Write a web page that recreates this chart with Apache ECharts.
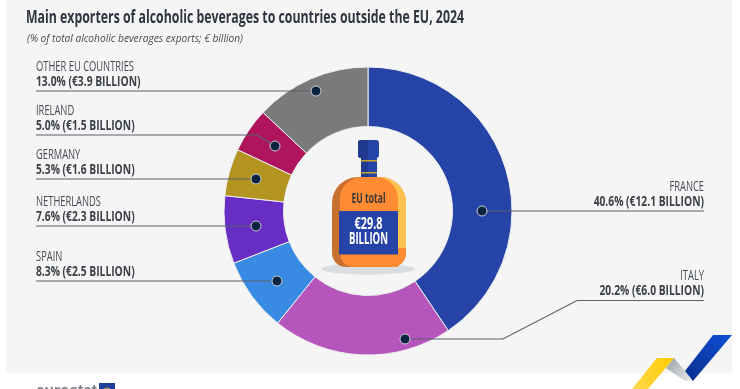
<!DOCTYPE html>
<html><head><meta charset="utf-8">
<style>html,body{margin:0;padding:0;background:#fff}#c{width:740px;height:389px}</style>
<script src="https://cdn.jsdelivr.net/npm/echarts@6/dist/echarts.min.js"></script>
</head><body><div id="c"></div>
<script>
const categories = ['FRANCE','ITALY','SPAIN','NETHERLANDS','GERMANY','IRELAND','OTHER EU COUNTRIES'];
const shares = [40.6,20.2,8.3,7.6,5.3,5.0,13.0];
const billions = ['12.1','6.0','2.5','2.3','1.6','1.5','3.9'];
const colors = ['#2644a7','#b656bd','#388ae2','#672dc4','#b39421','#af155c','#7a7a7a'];
const titleText = 'Main exporters of alcoholic beverages to countries outside the EU, 2024';
const subtitleText = '(% of total alcoholic beverages exports; € billion)';
// callout layout: text anchor x, underline y, leader points, dot
const callouts = [
  {x:704,y:211,align:'right',pts:[[704,211],[482,211]],dot:[482,211]},
  {x:704,y:300.5,align:'right',pts:[[704,300.5],[577,300.5],[503,339],[405,339]],dot:[405,339]},
  {x:36,y:281,align:'left',pts:[[36,281],[277,281]],dot:[277,281]},
  {x:36,y:226,align:'left',pts:[[36,226],[256,226]],dot:[256,226]},
  {x:36,y:179,align:'left',pts:[[36,179],[256,179]],dot:[256,179]},
  {x:36,y:135,align:'left',pts:[[36,135],[257,135],[275,146]],dot:[275,146]},
  {x:36,y:91,align:'left',pts:[[36,91],[316,91]],dot:[316,91]}
];
const F = '"Open Sans","Noto Sans",sans-serif';
const mctx = document.createElement('canvas').getContext('2d');
const widthOf = (t,font)=>{mctx.font=font;return mctx.measureText(t).width;};
const fitScale = (t,font,w)=>w/widthOf(t,font);
const chart = echarts.init(document.getElementById('c'));
const poly=(points,fill,z=10)=>({type:'polygon',z,shape:{points},style:{fill}});
const rect=(x,y,width,height,fill,r=0,z=10)=>({type:'rect',z,shape:{x,y,width,height,r},style:{fill}});
const text=(x,y,t,font,fill,align='center',scaleX=1,z=20)=>({type:'text',z,x,y,scaleX,style:{text:t,font,fill,align,verticalAlign:'middle'}});
const grad=(x0,y0,x1,y1,a,b)=>new echarts.graphic.LinearGradient(x0,y0,x1,y1,[{offset:0,color:a},{offset:1,color:b}]);
const fontA='14px '+F, fontB='bold 14px '+F;
const sA=fitScale('OTHER EU COUNTRIES',fontA,98), sB=fitScale('13.0% (€3.9 BILLION)',fontB,104.5);
const labels=[];
callouts.forEach((c,i)=>{
  labels.push(text(c.x,c.y-24,categories[i],fontA,'#454b54',c.align,sA));
  labels.push(text(c.x,c.y-9,`${shares[i].toFixed(1)}% (€${billions[i]} BILLION)`,fontB,'#3c4149',c.align,sB));
  labels.push({type:'polyline',z:90,shape:{points:c.pts},style:{fill:null,stroke:'#5a616d',lineWidth:1.2}});
  labels.push({type:'circle',z:100,shape:{cx:c.dot[0],cy:c.dot[1],r:5},style:{fill:'#0c2340',stroke:'#c9d0d8',lineWidth:1}});
});
const fT='bold 13.5px '+F, fV='bold 16.5px '+F;
const bottle=[
  {type:'ellipse',z:9,shape:{cx:368,cy:269,rx:47,ry:5.5},style:{fill:'#dadee1'}},
  rect(361,157,16,22,'#2644a7'),
  rect(361,157,7,22,'#1f3a8f',0,11),
  rect(361,160,16,1.5,'#c9a52a',0,12),
  rect(361,172,16,1.5,'#c9a52a',0,12),
  rect(358,140,21,18,'#2644a7',3,13),
  rect(358,140,10,18,'#1f3a8f',[3,0,0,3],14),
  rect(332,177,74,90,'#c8702f',[26,26,14,14]),
  rect(350,177,56,76,'#ffc24f',[20,26,0,0],11),
  rect(340,177,58,90,'#ff8c33',[22,22,0,14],12),
  rect(388,248,18,19,'#ff8c33',[0,0,14,0],12),
  rect(339,211,59,43.5,'#2644a7',0,13),
  text(368.5,199,'EU total',fT,'#3a3a3a','center',fitScale('EU total',fT,34)),
  text(368.5,224.5,'€29.8',fV,'#fff','center',fitScale('€29.8',fV,28)),
  text(368.5,239.5,'BILLION',fV,'#fff','center',fitScale('BILLION',fV,39))
];
const fL='bold 17px "Liberation Sans",sans-serif';
const logo=[
  poly([[657,358],[674,358],[648,389],[632,389]],grad(1,0,0,1,'#ffcc00','#ffd84d')),
  poly([[674,358],[666,368],[685,381],[693,381],[685,371]],grad(0,0,1,1,'#999ea3','#eceef0')),
  poly([[713,335],[732,335],[693,381],[685,371]],grad(1,0,0,1,'#0e4fd6','#0a2f8c')),
  text(36,391,'eurostat',fL,'#7a7f85','left',fitScale('eurostat',fL,61)),
  rect(99,383,16,12,'#1f3f9e'),
  {type:'circle',z:12,shape:{cx:107,cy:392,r:4},style:{fill:null,stroke:'#c9b93a',lineWidth:1}}
];
const fTitle='bold 17.5px '+F, fSub='italic 11px '+F;
chart.setOption({
  animation:false,
  backgroundColor:'#fff',
  graphic:[
    rect(6,0,726,373,'#f5f5f5',0,-10),
    text(26,18,titleText,fTitle,'#2f3640','left',fitScale(titleText,fTitle,438)),
    text(27,39,subtitleText,fSub,'#444b54','left',fitScale(subtitleText,fSub,216)),
    ...logo,...bottle,...labels
  ],
  series:[{
    type:'pie',
    center:[368,211],
    radius:[84.5,144],
    startAngle:90,
    clockwise:true,
    silent:true,
    color:colors,
    itemStyle:{borderColor:'#eef0f2',borderWidth:1},
    label:{show:false},
    labelLine:{show:false},
    data:categories.map((n,i)=>({name:n,value:shares[i]}))
  }]
});
</script></body></html>
